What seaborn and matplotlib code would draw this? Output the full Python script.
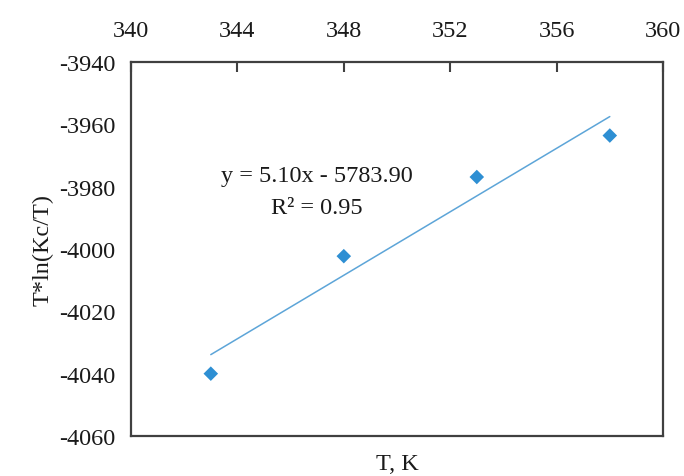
import numpy as np
import pandas as pd
import seaborn as sns
import matplotlib.pyplot as plt

temperature = [343, 348, 353, 358]
t_ln_kc = [-4040.0, -4002.3, -3976.9, -3963.6]
x_ticks = [340, 344, 348, 352, 356, 360]
y_ticks = [-4060, -4040, -4020, -4000, -3980, -3960, -3940]
eq_text = "y = 5.10x - 5783.90"
r2_text = "R² = 0.95"

df = pd.DataFrame({'T': temperature, 'TlnKc': t_ln_kc})

sns.set_style('white')
plt.rcParams['font.family'] = ['Liberation Serif', 'DejaVu Serif']
plt.rcParams['axes.unicode_minus'] = False
fs = 17.5

fig = plt.figure(figsize=(6.84, 4.77), dpi=100)
ax = fig.add_axes([131/684, 1-437/477, (663-131)/684, (437-63)/477])

# trendline
sns.regplot(data=df, x='T', y='TlnKc', ax=ax, ci=None, truncate=True, scatter=False,
            line_kws={'color': '#5DA5D8', 'linewidth': 1.1})
sns.scatterplot(data=df, x='T', y='TlnKc', ax=ax, marker='D', s=55,
                color='#2E8FD3', edgecolor='none', zorder=3)

ax.set_xlim(340, 360)
ax.set_ylim(-4060, -3940)
ax.set_xticks(x_ticks)
ax.set_yticks(y_ticks)
ax.xaxis.tick_top()
ax.tick_params(axis='x', direction='in', length=7, width=1.5, color='#404040',
               labelsize=fs, pad=15, labelcolor='#1a1a1a')
ax.tick_params(axis='y', direction='out', length=6, width=1.5, color='#404040',
               labelsize=fs, labelcolor='#1a1a1a', pad=5)
ax.tick_params(axis='x', which='both', bottom=False)
for sp in ax.spines.values():
    sp.set_color('#404040')
    sp.set_linewidth(1.6)

ax.set_xlabel('')
ax.set_ylabel('T*ln(Kc/T)', fontsize=fs, color='#1a1a1a', labelpad=4)
fig.text((131+663)/2/684, 1-465/477, 'T, K', ha='center', va='center',
         fontsize=fs, color='#1a1a1a')

ax.text(0.35, 0.697, eq_text, transform=ax.transAxes, ha='center', va='center',
        fontsize=fs, color='#1a1a1a')
ax.text(0.35, 0.61, r2_text, transform=ax.transAxes, ha='center', va='center',
        fontsize=fs, color='#1a1a1a')

fig.savefig('out.png', dpi=100)
